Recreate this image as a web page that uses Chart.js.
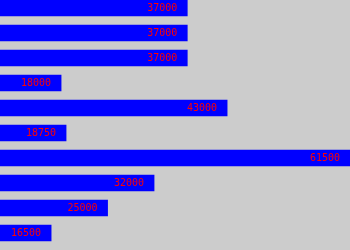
<!DOCTYPE html>
<html>
<head>
<meta charset="utf-8">
<script src="https://cdn.jsdelivr.net/npm/chart.js@4/dist/chart.umd.min.js"></script>
<style>
  html, body { margin: 0; padding: 0; background: #cccccc; }
  #wrap { width: 350px; height: 250px; position: relative; }
</style>
</head>
<body>
<div id="wrap"><canvas id="c"></canvas></div>
<script>
// Salary figures, one bar per row, top to bottom
const categories = ['r1', 'r2', 'r3', 'r4', 'r5', 'r6', 'r7', 'r8', 'r9', 'r10'];
const salaries = [37000, 37000, 37000, 18000, 43000, 18750, 61500, 32000, 25000, 16500];
const axisMin = 8800;
const axisMax = 61500;

// Writes each value in red just inside the end of its bar
const valueLabels = {
  id: 'valueLabels',
  afterDatasetsDraw(chart) {
    const ctx = chart.ctx;
    const meta = chart.getDatasetMeta(0);
    ctx.save();
    ctx.font = '10px "DejaVu Sans Mono", monospace';
    ctx.fillStyle = '#ff0000';
    ctx.textAlign = 'right';
    ctx.textBaseline = 'middle';
    meta.data.forEach((bar, i) => {
      ctx.fillText(String(salaries[i]), bar.x - 10, bar.y);
    });
    ctx.restore();
  }
};

new Chart(document.getElementById('c'), {
  type: 'bar',
  data: {
    labels: categories,
    datasets: [{
      data: salaries,
      backgroundColor: '#0000ff',
      borderWidth: 0,
      barThickness: 16,
      clip: false
    }]
  },
  options: {
    indexAxis: 'y',
    responsive: true,
    maintainAspectRatio: false,
    animation: false,
    layout: { padding: { top: 8, bottom: 17, left: 0, right: 0 } },
    plugins: { legend: { display: false }, tooltip: { enabled: false } },
    scales: {
      x: { display: false, min: axisMin, max: axisMax },
      y: { display: false, offset: false }
    }
  },
  plugins: [valueLabels]
});
</script>
</body>
</html>
